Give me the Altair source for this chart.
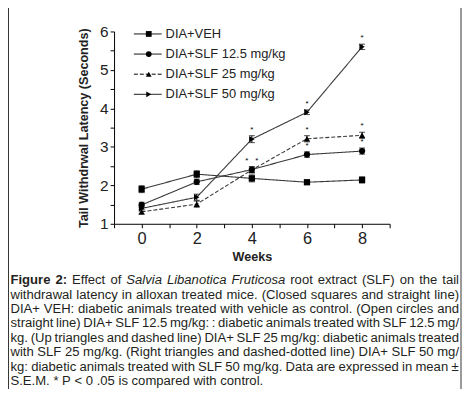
import altair as alt
import pandas as pd

# ---------------- data ----------------
weeks = [0, 2, 4, 6, 8]
series = ["DIA+VEH", "DIA+SLF 12.5 mg/kg", "DIA+SLF 25 mg/kg", "DIA+SLF 50 mg/kg"]
veh_mean = [1.90, 2.29, 2.18, 2.08, 2.14]
slf12_mean = [1.49, 2.09, 2.41, 2.80, 2.89]
slf25_mean = [1.31, 1.51, 2.40, 3.21, 3.30]
slf50_mean = [1.40, 1.69, 3.20, 3.90, 5.60]
veh_sem = [0.09, 0.09, 0.09, 0.04, 0.08]
slf12_sem = [0.07, 0.07, 0.07, 0.07, 0.08]
slf25_sem = [0.06, 0.08, 0.08, 0.08, 0.08]
slf50_sem = [0.07, 0.08, 0.09, 0.06, 0.07]
star_series = ["DIA+SLF 12.5 mg/kg", "DIA+SLF 25 mg/kg", "DIA+SLF 50 mg/kg"] * 3
star_weeks = [4, 4, 4, 6, 6, 6, 8, 8, 8]
x_ticks = [-1, 0, 1, 2, 3, 4, 5, 6, 7, 8, 9]
y_ticks = [1, 1.5, 2, 2.5, 3, 3.5, 4, 4.5, 5, 5.5, 6]

caption_line1 = [("Figure 2:", "b"), ("Effect of", "n"),
                 ("Salvia Libanotica Fruticosa", "i"),
                 ("root extract (SLF) on the tail", "n")]
caption_rest = [
    "withdrawal latency in alloxan treated mice. (Closed squares and straight line)",
    "DIA+ VEH: diabetic animals treated with vehicle as control. (Open circles and",
    "straight line) DIA+ SLF 12.5 mg/kg: : diabetic animals treated with SLF 12.5 mg/",
    "kg. (Up triangles and dashed line) DIA+ SLF 25 mg/kg: diabetic animals treated",
    "with SLF 25 mg/kg. (Right triangles and dashed-dotted line) DIA+ SLF 50 mg/",
    "kg: diabetic animals treated with SLF 50 mg/kg. Data are expressed in mean \u00b1",
    "S.E.M. * P < 0 .05 is compared with control.",
]

# ---------------- tables ----------------
means = [veh_mean, slf12_mean, slf25_mean, slf50_mean]
sems = [veh_sem, slf12_sem, slf25_sem, slf50_sem]
rows = []
for s, m, e in zip(series, means, sems):
    for w, mv, ev in zip(weeks, m, e):
        rows.append({"series": s, "week": w, "mean": mv, "lo": mv - ev, "hi": mv + ev})
df = pd.DataFrame(rows)
stars = pd.DataFrame({"series": star_series, "week": star_weeks}).merge(df, on=["series", "week"])

FONT = "Liberation Sans"
INK = "#222222"
shape_scale = alt.Scale(domain=series, range=["square", "circle", "triangle-up", "triangle-right"])
dash_scale = alt.Scale(domain=series, range=[[1, 0], [1, 0], [4, 2], [1, 0]])

xs = alt.Scale(domain=[-1, 9], nice=False, zero=False)
ys = alt.Scale(domain=[1, 6], nice=False, zero=False)

x_axis = alt.Axis(values=x_ticks, labelExpr="datum.value % 2 == 0 ? format(datum.value, 'd') : ''",
                  grid=False, tickSize=4, labelPadding=3, titlePadding=4,
                  labelOverlap=False, labelFlush=False,
                  labelFontSize=16.5, titleFontSize=12.7, titleFontWeight="bold")
y_axis = alt.Axis(values=y_ticks, labelExpr="datum.value % 1 == 0 ? format(datum.value, 'd') : ''",
                  grid=False, tickSize=4, labelPadding=2, titlePadding=9,
                  labelOverlap=False, labelFlush=False,
                  labelFontSize=15.5, titleFontSize=12.7, titleFontWeight="bold")

def XF():
    return alt.X("week:Q", scale=xs, title="Weeks", axis=x_axis)

def YF(field):
    return alt.Y(f"{field}:Q", scale=ys, title="Tail Withdrwal Latency (Seconds)", axis=y_axis)

base = alt.Chart(df)
lines = base.mark_line(color="#3a3a3a", strokeWidth=1.1).encode(
    x=XF(), y=YF("mean"), detail="series:N",
    strokeDash=alt.StrokeDash("series:N", scale=dash_scale, legend=None))
err = base.mark_rule(color="black", strokeWidth=1).encode(
    x=XF(), y=YF("lo"), y2="hi:Q")
cap_lo = base.mark_tick(orient="horizontal", size=6, thickness=1, color="black").encode(
    x=XF(), y=YF("lo"))
cap_hi = base.mark_tick(orient="horizontal", size=6, thickness=1, color="black").encode(
    x=XF(), y=YF("hi"))
pts = base.mark_point(filled=True, color="black", size=40, opacity=1).encode(
    x=XF(), y=YF("mean"),
    shape=alt.Shape("series:N", scale=shape_scale, legend=None))

star_base = alt.Chart(stars)
def star_layer(cond, dx):
    return star_base.transform_filter(cond).mark_text(
        text="*", fontSize=8, dy=-6, dx=dx, color="black", font=FONT).encode(
        x=XF(), y=YF("hi"))
st_a = star_layer("datum.week != 4 || datum.series == 'DIA+SLF 50 mg/kg'", 0)
st_b = star_layer("datum.week == 4 && datum.series == 'DIA+SLF 12.5 mg/kg'", -5)
st_c = star_layer("datum.week == 4 && datum.series == 'DIA+SLF 25 mg/kg'", 5)

main = alt.layer(lines, err, cap_lo, cap_hi, pts, st_a, st_b, st_c)

# ---------------- legend (inside plot, top-left) ----------------
leg = pd.DataFrame({"series": series, "row": list(range(len(series)))})
leg["ly"] = 2.5 + 20.3 * leg["row"]
LY = alt.Y("ly:Q", scale=None, axis=None)
leg_base = alt.Chart(leg)
leg_line = leg_base.mark_rule(color="black", strokeWidth=1).encode(
    x=alt.value(20), x2=alt.value(48), y=LY,
    strokeDash=alt.StrokeDash("series:N", scale=dash_scale, legend=None))
leg_pt = leg_base.mark_point(filled=True, color="black", size=34, opacity=1).encode(
    x=alt.value(35), y=LY, shape=alt.Shape("series:N", scale=shape_scale, legend=None))
leg_txt = leg_base.mark_text(align="left", baseline="middle", fontSize=13, font=FONT,
                             color=INK).encode(x=alt.value(52), y=LY, text="series:N")
legend = alt.layer(leg_line, leg_pt, leg_txt)

# ---------------- caption (justified) ----------------
REG = {' ': 278, 'a': 556, 'b': 556, 'c': 500, 'd': 556, 'e': 556, 'f': 278, 'g': 556, 'h': 556,
       'i': 222, 'j': 222, 'k': 500, 'l': 222, 'm': 833, 'n': 556, 'o': 556, 'p': 556, 'q': 556,
       'r': 333, 's': 500, 't': 278, 'u': 556, 'v': 500, 'w': 722, 'x': 500, 'y': 500, 'z': 500,
       'A': 667, 'B': 667, 'C': 722, 'D': 722, 'E': 667, 'F': 611, 'G': 778, 'H': 722, 'I': 278,
       'J': 500, 'K': 667, 'L': 556, 'M': 833, 'N': 722, 'O': 778, 'P': 667, 'Q': 778, 'R': 722,
       'S': 667, 'T': 611, 'U': 722, 'V': 667, 'W': 944, 'X': 667, 'Y': 667, 'Z': 611,
       '.': 278, ',': 278, ':': 278, ';': 278, '(': 333, ')': 333, '/': 278, '+': 584, '-': 333,
       '*': 389, '<': 584, '\u00b1': 584}
BOLD = dict(REG)
BOLD.update({'b': 611, 'd': 611, 'g': 611, 'h': 611, 'i': 278, 'n': 611, 'o': 611, 'r': 389,
             'u': 611, 't': 333, ':': 333})
CFS = 13.2
def wwidth(word, style):
    tab = BOLD if style == "b" else REG
    return sum(tab.get(c, 556) for c in word) * CFS / 1000.0

cap_lines = [[(w, st) for txt, st in caption_line1 for w in txt.split()]]
cap_lines += [[(w, "n") for w in ln.split()] for ln in caption_rest]
left, right = -104.5, 348.0
target = right - left
words = []
for i, ln in enumerate(cap_lines):
    widths = [wwidth(w, st) for w, st in ln]
    if i < len(cap_lines) - 1 and len(ln) > 1:
        gap = (target - sum(widths)) / (len(ln) - 1)
    else:
        gap = 278 * CFS / 1000.0
    x = left
    for (w, st), wd in zip(ln, widths):
        words.append({"word": w, "style": st, "px": x, "py": 255.0 + 14.53 * i})
        x += wd + gap
wdf = pd.DataFrame(words)
WX = alt.X("px:Q", scale=None, axis=None)
WY = alt.Y("py:Q", scale=None, axis=None)
cap_base = alt.Chart(wdf)
def cap_layer(style, **kw):
    return cap_base.transform_filter(f"datum.style == '{style}'").mark_text(
        align="left", baseline="alphabetic", fontSize=CFS, font=FONT, color="#231f20", **kw
    ).encode(x=WX, y=WY, text="word:N")
caption = alt.layer(cap_layer("n"), cap_layer("b", fontWeight="bold"),
                    cap_layer("i", fontStyle="italic"))

# ---------------- frame lines ----------------
frame_df = pd.DataFrame({"side": ["frame"]})
frame_l = alt.Chart(frame_df).mark_rule(color="#333333", strokeWidth=1).encode(
    x=alt.value(-106.5), y=alt.value(-30), y2=alt.value(370))
frame_r = alt.Chart(frame_df).mark_rule(color="#333333", strokeWidth=1).encode(
    x=alt.value(350), y=alt.value(-30), y2=alt.value(370))

chart = alt.layer(main, legend, caption, frame_l, frame_r).resolve_scale(
    x="independent", y="independent"
).properties(
    width=278, height=194,
    autosize=alt.AutoSizeParams(type="none"),
    padding={"left": 107, "top": 22, "right": 73, "bottom": 165},
).configure_view(strokeWidth=0).configure_axis(
    domainColor="black", tickColor="black", labelColor=INK, titleColor=INK,
    labelFont=FONT, titleFont=FONT, domainWidth=1, tickWidth=1, labelOverlap=False
)

chart.save("out.html", embed_options={"renderer": "svg", "actions": False})
